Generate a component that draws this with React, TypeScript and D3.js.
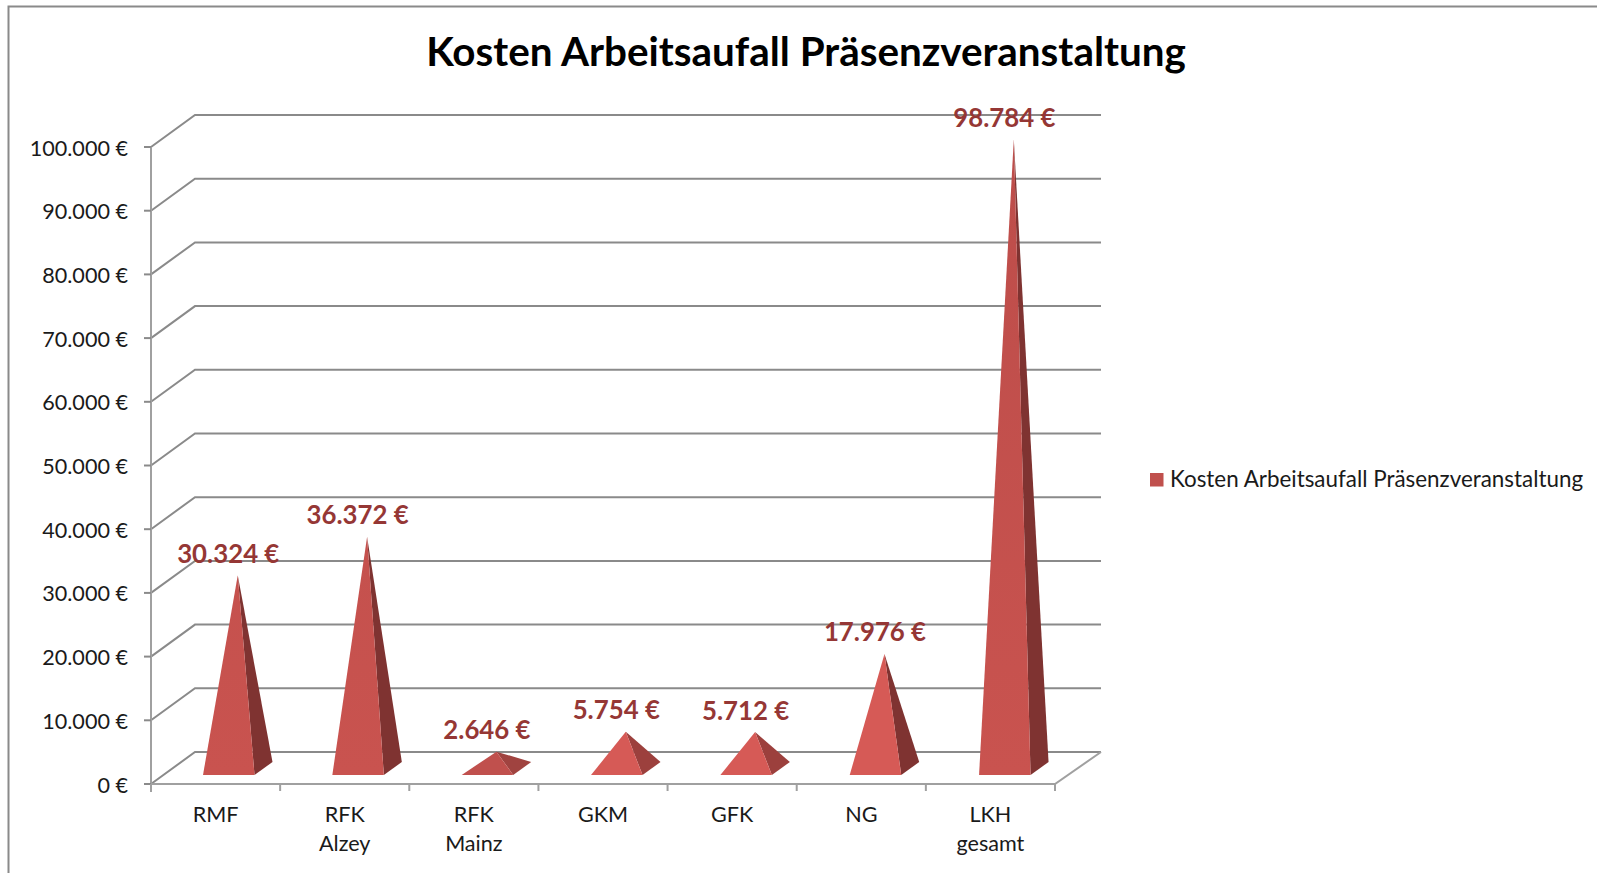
import React from "react";
import * as d3 from "d3";

const categories = [["RMF"], ["RFK", "Alzey"], ["RFK", "Mainz"], ["GKM"], ["GFK"], ["NG"], ["LKH", "gesamt"]];
const values = [30324, 36372, 2646, 5754, 5712, 17976, 98784];
const valueLabels = ["30.324 €", "36.372 €", "2.646 €", "5.754 €", "5.712 €", "17.976 €", "98.784 €"];
const yTicks = [0, 10000, 20000, 30000, 40000, 50000, 60000, 70000, 80000, 90000, 100000];
const tickLabels = ["0 €", "10.000 €", "20.000 €", "30.000 €", "40.000 €", "50.000 €", "60.000 €", "70.000 €", "80.000 €", "90.000 €", "100.000 €"];
const title = "Kosten Arbeitsaufall Präsenzveranstaltung";
const FONT = "Lato, 'Open Sans', sans-serif";

const W = 1597, H = 873;
const dx = 44, dy = -32;
const x = d3.scaleBand<number>().domain(d3.range(7)).range([151, 1055]).paddingInner(0).paddingOuter(0);
const y = d3.scaleLinear().domain([0, 100000]).range([784, 147]);
const grid = "#8a8a8a";
const axis = "#a0a0a0";

export default function App() {
  const line = d3.line();
  return (
    <svg width={W} height={H} viewBox={`0 0 ${W} ${H}`} style={{ position: "absolute", left: 0, top: 0, display: "block", background: "#fff" }}>
      <defs>
        <linearGradient id="front" gradientUnits="userSpaceOnUse" x1="0" y1="140" x2="0" y2="775">
          <stop offset="0" stopColor="#bd4d4a" />
          <stop offset="1" stopColor="#c9534f" />
        </linearGradient>
      </defs>
      <path d={`M8.5 873V6.5H1597`} fill="none" stroke={grid} strokeWidth={2} />
      <text x={806} y={66} textAnchor="middle" fontFamily={FONT} fontWeight={700} fontSize={40.4} fill="#000">{title}</text>

      {/* walls, gridlines */}
      {yTicks.map((t) => (
        <path key={t} d={line([[151, y(t)], [151 + dx, y(t) + dy], [151 + dx + 906, y(t) + dy]])!} fill="none" stroke={grid} strokeWidth={2} />
      ))}
      <path d={line([[151, y(0)], [1055, y(0)], [1055 + dx + 2, y(0) + dy]])!} fill="none" stroke={axis} strokeWidth={2} />
      <path d={line([[151, y(100000)], [151, y(0) + 8]])!} fill="none" stroke={axis} strokeWidth={2} />
      {yTicks.map((t, i) => (
        <g key={t}>
          <line x1={144} x2={151} y1={y(t)} y2={y(t)} stroke={grid} strokeWidth={2} />
          <text x={128} y={y(t) + 8.5} textAnchor="end" fontFamily={FONT} fontSize={21.6} fill="#1a1a1a">{tickLabels[i]}</text>
        </g>
      ))}
      {d3.range(8).map((i) => {
        const px = i < 7 ? x(i)! : 1055;
        return <line key={i} x1={px} x2={px} y1={784} y2={791} stroke={axis} strokeWidth={2} />;
      })}

      {/* pyramids */}
      {values.map((v, i) => {
        const left = x(i)! + 52 + i * 0.2;
        const right = left + 51.5;
        const base = y(0) - 9;
        const sx = 18, sy = -13;
        const ax = (left + right + sx) / 2;
        const ay = base + sy / 2 - (y(0) - y(v));
        const small = v < 20000;
        return (
          <g key={i}>
            <path d={line([[right, base], [right + sx, base + sy], [ax, ay]])! + "Z"} fill={v < 4000 ? "#a04340" : v < 10000 ? "#9c403d" : "#7f3331"} />
            <path d={line([[left, base], [right, base], [ax, ay]])! + "Z"} fill={small ? (v < 4000 ? "#c0504d" : "#d65a56") : "url(#front)"} />
          </g>
        );
      })}

      {/* data labels */}
      {values.map((v, i) => {
        const base = y(0) - 9;
        const ax = x(i)! + 52 + i * 0.2 + 34.75;
        const ay = base - 6.5 - (y(0) - y(v));
        return (
          <text key={i} x={ax - 9.5} y={ay - 12.5} textAnchor="middle" fontFamily={FONT} fontWeight={700} fontSize={25.8} fill="#953735">{valueLabels[i]}</text>
        );
      })}

      {/* category labels */}
      {categories.map((c, i) => (
        <text key={i} textAnchor="middle" fontFamily={FONT} fontSize={21.6} fill="#1a1a1a">
          {c.map((s, j) => (
            <tspan key={j} x={x(i)! + x.bandwidth() / 2} y={822 + j * 29}>{s}</tspan>
          ))}
        </text>
      ))}

      {/* legend */}
      <rect x={1150} y={473} width={13.5} height={13.5} fill="#c0504d" />
      <text x={1170} y={487} fontFamily={FONT} fontSize={22.4} fill="#1a1a1a">{title}</text>
    </svg>
  );
}
